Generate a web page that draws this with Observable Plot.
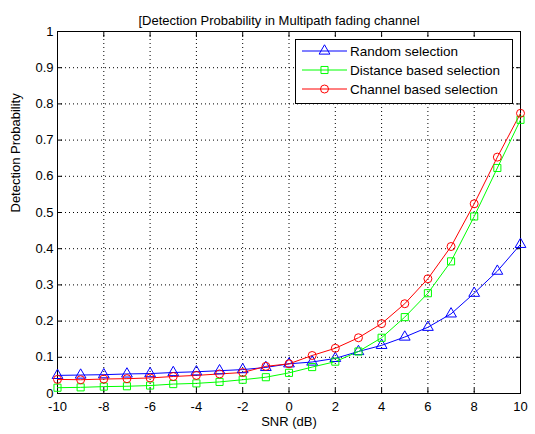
<!DOCTYPE html>
<html><head><meta charset="utf-8">
<script src="https://cdn.jsdelivr.net/npm/d3@7"></script>
<script src="https://cdn.jsdelivr.net/npm/@observablehq/plot@0.6"></script>
<style>
body{margin:0;background:#fff}
#chart{position:relative;width:535px;height:434px}
</style>
</head><body><div id="chart"></div>
<script>
const titleText = "[Detection Probability in Multipath fading channel";
const xLabel = "SNR (dB)";
const yLabel = "Detection Probability";
const seriesNames = ["Random selection", "Distance based selection", "Channel based selection"];
const seriesColors = ["#0000ff", "#00ff00", "#ff0000"];
const seriesSymbols = ["triangle", "square", "circle"];
const snr = [-10,-9,-8,-7,-6,-5,-4,-3,-2,-1,0,1,2,3,4,5,6,7,8,9,10];
const randomSel = [0.050,0.051,0.052,0.054,0.055,0.058,0.060,0.063,0.066,0.072,0.082,0.087,0.097,0.116,0.133,0.156,0.183,0.220,0.277,0.338,0.412];
const distanceSel = [0.016,0.017,0.019,0.020,0.022,0.026,0.028,0.032,0.038,0.045,0.057,0.073,0.088,0.116,0.154,0.211,0.277,0.365,0.489,0.623,0.756];
const channelSel = [0.039,0.038,0.040,0.041,0.043,0.047,0.050,0.054,0.058,0.075,0.082,0.105,0.125,0.154,0.193,0.248,0.317,0.406,0.524,0.653,0.774];
const xTicks = [-10,-8,-6,-4,-2,0,2,4,6,8,10];
const yTicks = [0,0.1,0.2,0.3,0.4,0.5,0.6,0.7,0.8,0.9,1];

const seriesValues = [randomSel, distanceSel, channelSel];
const rows = [];
seriesNames.forEach((name, i) => snr.forEach((s, j) => rows.push({series: name, snr: s, value: seriesValues[i][j]})));

const font = "'Liberation Sans', Arial, sans-serif";
const fmt = d => String(d);
const gridStyle = {stroke: "black", strokeOpacity: 1, strokeWidth: 1, strokeDasharray: "1,3"};

const svg = Plot.plot({
  width: 535, height: 434,
  marginLeft: 57, marginRight: 15, marginTop: 31, marginBottom: 41,
  style: {fontFamily: font, fontSize: "13px", background: "white", color: "black"},
  x: {domain: [-10, 10]},
  y: {domain: [0, 1]},
  color: {domain: seriesNames, range: seriesColors},
  symbol: {domain: seriesNames, range: seriesSymbols},
  marks: [
    Plot.gridX(xTicks, gridStyle),
    Plot.gridY(yTicks, gridStyle),
    Plot.axisX(xTicks, {anchor: "bottom", tickSize: -5, text: null, label: null}),
    Plot.axisX(xTicks, {anchor: "top", tickSize: -5, text: null, label: null}),
    Plot.axisY(yTicks, {anchor: "left", tickSize: -5, text: null, label: null}),
    Plot.axisY(yTicks, {anchor: "right", tickSize: -5, text: null, label: null}),
    Plot.axisX(xTicks, {anchor: "bottom", tickSize: 0, tickPadding: 8, label: null, tickFormat: fmt, fontSize: 13}),
    Plot.axisY(yTicks, {anchor: "left", tickSize: 0, tickPadding: 4, label: null, tickFormat: fmt, fontSize: 13}),
    Plot.frame({stroke: "black", strokeWidth: 1}),
    Plot.line(rows, {x: "snr", y: "value", z: "series", stroke: "series", strokeWidth: 1}),
    Plot.dot(rows, {x: "snr", y: "value", stroke: "series", symbol: "series", r: 4, fill: "none", strokeWidth: 1}),
    Plot.text([xLabel], {frameAnchor: "bottom", text: d => d, dy: 32, fontSize: 13}),
    Plot.text([yLabel], {frameAnchor: "left", text: d => d, rotate: -90, dx: -42, fontSize: 13}),
    Plot.text([titleText], {frameAnchor: "top", text: d => d, dy: -16, dx: -10, fontSize: 13})
  ]
});

// Legend (MATLAB style box, top right)
const lg = d3.select(svg).append("g").attr("font-family", font).attr("font-size", 13.5).attr("text-anchor", "start");
lg.append("rect").attr("x", 295.5).attr("y", 39.5).attr("width", 217).attr("height", 64)
  .attr("fill", "white").attr("stroke", "black").attr("stroke-width", 1);
const symMap = {triangle: d3.symbolTriangle, square: d3.symbolSquare, circle: d3.symbolCircle};
seriesNames.forEach((name, i) => {
  const y = 51 + i * 19;
  lg.append("line").attr("x1", 302).attr("x2", 347).attr("y1", y).attr("y2", y)
    .attr("stroke", seriesColors[i]).attr("stroke-width", 1);
  lg.append("path").attr("transform", `translate(324.5,${y})`)
    .attr("d", d3.symbol(symMap[seriesSymbols[i]], 16 * Math.PI)())
    .attr("fill", "none").attr("stroke", seriesColors[i]);
  lg.append("text").attr("x", 350).attr("y", y).attr("dy", "0.36em").attr("text-anchor", "start").text(name);
});

document.getElementById("chart").appendChild(svg);
</script>
</body></html>
